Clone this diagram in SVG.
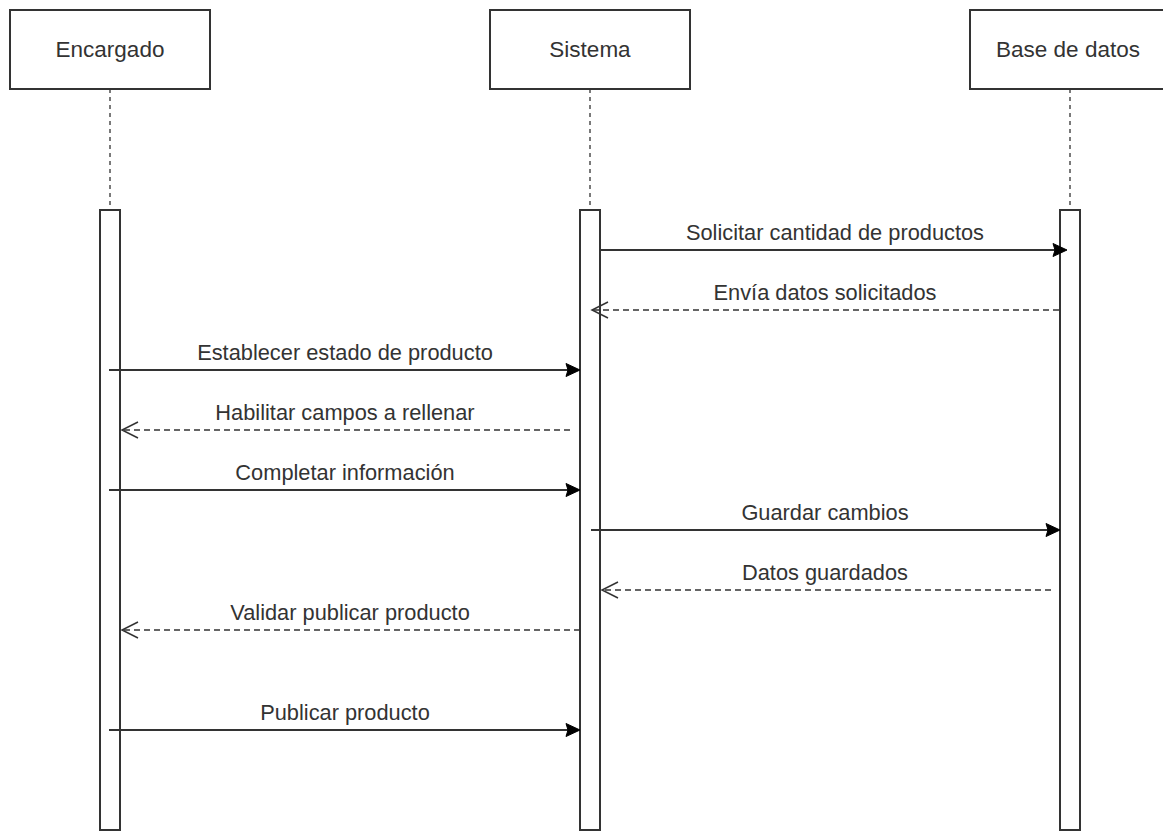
<svg xmlns="http://www.w3.org/2000/svg" width="1163" height="832" viewBox="0 0 1163 832">
<style>
.box{fill:#fff;stroke:#333;stroke-width:2}
.bar{fill:#fff;stroke:#333;stroke-width:2}
.life{stroke:#333;stroke-width:1.3;stroke-dasharray:4 4;fill:none}
.msg{stroke:#333;stroke-width:2;fill:none}
.ret{stroke:#333;stroke-width:1.5;stroke-dasharray:6 4;fill:none}
.head{fill:#000;stroke:#000;stroke-width:1}
.open{fill:none;stroke:#333;stroke-width:1.5}
text{font-family:"Liberation Sans",Arial,sans-serif;font-size:21.8px;fill:#333;text-anchor:middle}
.lbl{font-size:22.5px}
</style>
<rect width="1163" height="832" fill="#fff"/>
<g id="encargado">
<rect class="box" x="10" y="10" width="200" height="79"/>
<text class="lbl" x="110" y="57">Encargado</text>
<line class="life" x1="110" y1="89" x2="110" y2="210"/>
<rect class="bar" x="100" y="210" width="20" height="620"/>
</g>
<g id="sistema">
<rect class="box" x="490" y="10" width="200" height="79"/>
<text class="lbl" x="590" y="57">Sistema</text>
<line class="life" x1="590" y1="89" x2="590" y2="210"/>
<rect class="bar" x="580" y="210" width="20" height="620"/>
</g>
<g id="basededatos">
<rect class="box" x="970" y="10" width="210" height="79"/>
<text class="lbl" x="1068" y="57">Base de datos</text>
<line class="life" x1="1070" y1="89" x2="1070" y2="210"/>
<rect class="bar" x="1060" y="210" width="20" height="620"/>
</g>
<g id="connectors">
<line class="msg" x1="600" y1="250" x2="1056" y2="250"/>
<path class="head" d="M1067,250 L1053,243.5 L1055,250 L1053,256.5 Z"/>
<text x="835" y="240">Solicitar cantidad de productos</text>

<line class="ret" x1="1059" y1="310" x2="593" y2="310"/>
<path class="open" d="M608,302 L592,310 L608,318"/>
<text x="825" y="300">Envía datos solicitados</text>

<line class="msg" x1="109" y1="370" x2="568" y2="370"/>
<path class="head" d="M580,370 L566,363.5 L568,370 L566,376.5 Z"/>
<text x="345" y="360">Establecer estado de producto</text>

<line class="ret" x1="570" y1="430" x2="123" y2="430"/>
<path class="open" d="M138,422 L122,430 L138,438"/>
<text x="345" y="420">Habilitar campos a rellenar</text>

<line class="msg" x1="109" y1="490" x2="568" y2="490"/>
<path class="head" d="M580,490 L566,483.5 L568,490 L566,496.5 Z"/>
<text x="345" y="480">Completar información</text>

<line class="msg" x1="591" y1="530" x2="1048" y2="530"/>
<path class="head" d="M1060,530 L1046,523.5 L1048,530 L1046,536.5 Z"/>
<text x="825" y="520">Guardar cambios</text>

<line class="ret" x1="1051" y1="590" x2="603" y2="590"/>
<path class="open" d="M618,582 L602,590 L618,598"/>
<text x="825" y="580">Datos guardados</text>

<line class="ret" x1="580" y1="630" x2="123" y2="630"/>
<path class="open" d="M138,622 L122,630 L138,638"/>
<text x="350" y="620">Validar publicar producto</text>

<line class="msg" x1="109" y1="730" x2="568" y2="730"/>
<path class="head" d="M580,730 L566,723.5 L568,730 L566,736.5 Z"/>
<text x="345" y="720">Publicar producto</text>
</g>
</svg>
